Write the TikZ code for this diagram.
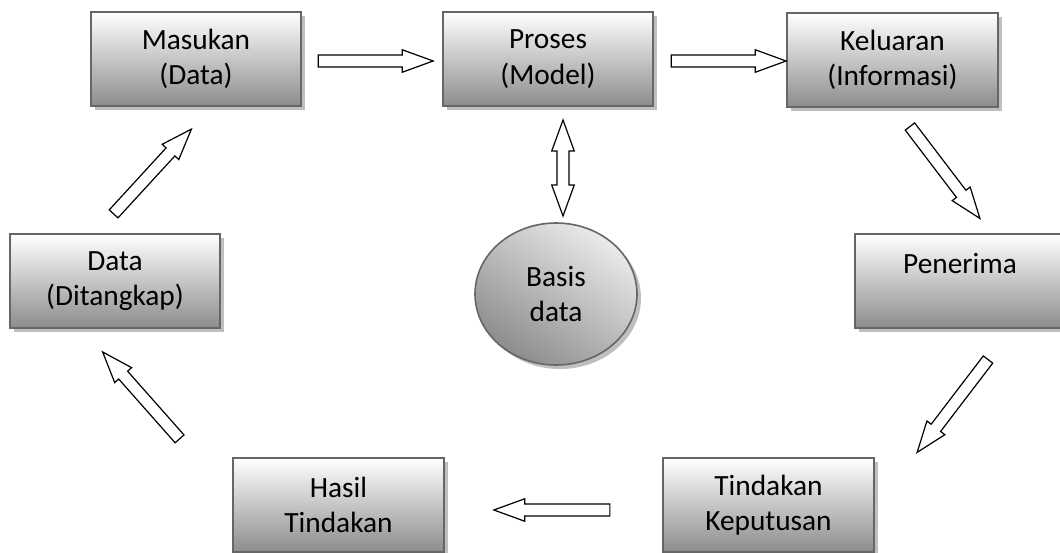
\documentclass[tikz,border=0pt]{standalone}
\usepackage{fontspec}
\setmainfont{Carlito}
\usetikzlibrary{calc,shapes.arrows,shapes.geometric,shadows}
\tikzset{
  kotak/.style={rectangle, draw=black!60, line width=1.5pt, top color=white, bottom color=black!45,
    minimum width=158pt, minimum height=70.5pt, align=center, font=\fontsize{22}{26.5}\selectfont,
    drop shadow={shadow xshift=3pt, shadow yshift=-3pt, fill=black!25, opacity=1}},
  bulat/.style={ellipse, draw=black!60, line width=1.2pt, top color=black!8, bottom color=black!45, shading angle=-35,
    minimum width=121.5pt, minimum height=106.5pt, inner sep=0pt, align=center, font=\fontsize{22}{26.5}\selectfont,
    drop shadow={shadow xshift=3pt, shadow yshift=-3pt, fill=black!25, opacity=1}},
  panah/.style={single arrow, draw=black, line width=0.9pt, fill=white, inner xsep=0pt, inner ysep=4pt,
    single arrow head extend=4pt, single arrow tip angle=40, single arrow head indent=0pt},
  panahdua/.style={double arrow, draw=black, line width=0.9pt, fill=white, inner xsep=0pt, inner ysep=4pt,
    double arrow head extend=4pt, double arrow tip angle=40, double arrow head indent=0pt}
}
% block arrow between two points: [style]{name}{from}{to}
\newcommand{\sambung}[4][panah]{%
  \path let \p1=($(#4)-(#3)$), \n1={atan2(\y1,\x1)}, \n2={veclen(\x1,\y1)} in
    node[#1, minimum height=\n2, rotate=\n1] (#2) at ($(#3)!0.5!(#4)$) {};}
\begin{document}
\begin{tikzpicture}[x=0.75pt, y=-0.75pt]
\useasboundingbox (0,0) rectangle (1060,553);
\node[kotak] (masukan) at (196,59) {Masukan\\(Data)};
\node[kotak] (proses) at (548,59) {Proses\\(Model)};
\node[kotak] (keluaran) at (892.5,60) {Keluaran\\(Informasi)};
\node[kotak] (data) at (115,281) {Data\\(Ditangkap)};
\node[kotak] (penerima) at (960,281) {Penerima\\~};
\node[kotak] (hasil) at (338.5,505) {Hasil\\Tindakan};
\node[kotak] (tindakan) at (768.5,505) {Tindakan\\Keputusan};
\node[bulat] (basis) at (556,294) {Basis\\data};
% ujung panah
\coordinate (m1) at ($(masukan)+(114,2)$);
\coordinate (p1) at ($(proses)+(-123,2)$);
\coordinate (p2) at ($(proses)+(115,2)$);
\coordinate (k2) at ($(keluaran)+(-114.5,1)$);
\coordinate (p3) at ($(proses)+(15,61)$);
\coordinate (b3) at ($(basis)+(7,-78)$);
\coordinate (k4) at ($(keluaran)+(12.5,60)$);
\coordinate (n4) at ($(penerima)+(15,-69)$);
\coordinate (n5) at ($(penerima)+(33,72)$);
\coordinate (t5) at ($(tindakan)+(153.5,-59)$);
\coordinate (t6) at ($(tindakan)+(-150.5,5)$);
\coordinate (h6) at ($(hasil)+(163.5,5)$);
\coordinate (h7) at ($(hasil)+(-153.5,-60)$);
\coordinate (d7) at ($(data)+(-7,77)$);
\coordinate (d8) at ($(data)+(-7,-61)$);
\coordinate (m8) at ($(masukan)+(-10,76)$);
\sambung{ar1}{m1}{p1}
\sambung{ar2}{p2}{k2}
\sambung[panahdua]{ar3}{p3}{b3}
\sambung{ar4}{k4}{n4}
\sambung{ar5}{n5}{t5}
\sambung{ar6}{t6}{h6}
\sambung{ar7}{h7}{d7}
\sambung{ar8}{d8}{m8}
\end{tikzpicture}
\end{document}
